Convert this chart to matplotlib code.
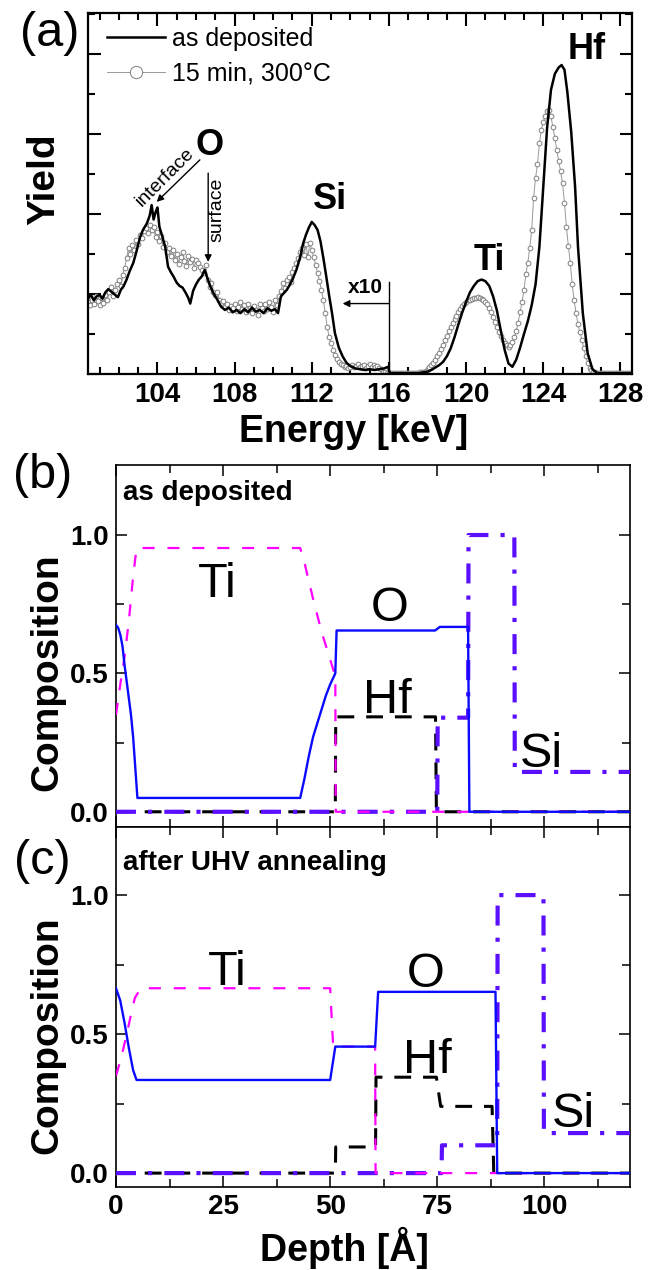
import matplotlib
matplotlib.use('Agg')
import matplotlib.pyplot as plt
import numpy as np
from matplotlib.ticker import MultipleLocator, FixedLocator

plt.rcParams['font.family'] = ['Liberation Sans', 'DejaVu Sans']

# ---------------- Panel (a): spectra ----------------
energy_dep = [100.4, 100.55, 100.7, 100.85, 101.0, 101.15, 101.3, 101.45, 101.6, 101.75,
              101.95, 102.1, 102.25, 102.4, 102.55, 102.75, 102.9, 103.1, 103.25, 103.45,
              103.6, 103.7, 103.8, 103.9, 104.0, 104.1, 104.25, 104.4, 104.55, 104.7,
              104.85, 105.0, 105.15, 105.3, 105.45, 105.6, 105.7, 105.85, 106.0, 106.15,
              106.3, 106.45, 106.6, 106.75, 106.9, 107.1, 107.3, 107.5, 107.7, 107.9,
              108.1, 108.3, 108.5, 108.7, 108.9, 109.1, 109.3, 109.5, 109.7, 109.9,
              110.1, 110.25, 110.4, 110.55, 110.7, 110.85, 111.0, 111.2, 111.4, 111.55,
              111.7, 111.85, 112.0, 112.15, 112.3, 112.45, 112.6, 112.75, 112.9, 113.05,
              113.2, 113.4, 113.6, 113.8, 114.0, 114.25, 114.5, 114.75, 115.0, 115.25,
              115.5, 115.75, 115.95, 116.05, 116.5, 117.0, 117.5, 118.0, 118.2, 118.4,
              118.6, 118.8, 119.0, 119.2, 119.4, 119.6, 119.8, 120.0, 120.2, 120.4,
              120.6, 120.8, 121.0, 121.2, 121.4, 121.6, 121.8, 122.0, 122.2, 122.4,
              122.6, 122.8, 123.0, 123.2, 123.4, 123.6, 123.8, 124.0, 124.2, 124.4,
              124.6, 124.8, 124.95, 125.1, 125.25, 125.45, 125.65, 125.8, 126.05, 126.3,
              126.55, 126.8, 127.5, 128.6]
yield_dep = [0.94, 0.99, 0.92, 0.97, 0.99, 0.94, 1.02, 1.06, 1.03, 1.00,
             0.96, 1.05, 1.10, 1.18, 1.28, 1.39, 1.52, 1.71, 1.80, 1.88,
             1.98, 2.11, 1.93, 2.02, 2.08, 1.84, 1.72, 1.59, 1.34, 1.27,
             1.21, 1.14, 1.10, 1.08, 1.02, 0.95, 0.88, 1.04, 1.12, 1.18,
             1.22, 1.30, 1.19, 1.09, 1.01, 0.93, 0.84, 0.80, 0.83, 0.77,
             0.80, 0.76, 0.81, 0.77, 0.83, 0.78, 0.80, 0.76, 0.82, 0.79,
             0.81, 0.76, 0.97, 1.01, 1.05, 1.11, 1.18, 1.30, 1.46, 1.63,
             1.74, 1.83, 1.90, 1.86, 1.80, 1.66, 1.45, 1.22, 0.98, 0.76,
             0.51, 0.33, 0.22, 0.14, 0.10, 0.07, 0.06, 0.05, 0.06, 0.05,
             0.06, 0.07, 0.09, 0.01, 0.01, 0.01, 0.01, 0.03, 0.05, 0.08,
             0.11, 0.15, 0.22, 0.32, 0.46, 0.62, 0.77, 0.90, 1.02, 1.10,
             1.16, 1.18, 1.16, 1.10, 0.97, 0.79, 0.54, 0.30, 0.13, 0.09,
             0.18, 0.33, 0.50, 0.66, 0.86, 1.12, 1.59, 2.34, 3.08, 3.55,
             3.75, 3.83, 3.86, 3.80, 3.52, 3.02, 2.34, 1.59, 0.76, 0.26,
             0.06, 0.01, 0.01, 0.01]

# annealed spectrum, one value per 0.1 keV channel from 100.4 to 128.6 keV
yield_ann = [0.90, 0.86, 0.93, 0.88, 0.97, 0.91, 0.86, 0.95, 0.89, 0.99,
             0.92, 1.02, 1.09, 0.98, 1.05, 1.12, 1.18, 1.10, 1.24, 1.33,
             1.45, 1.57, 1.50, 1.61, 1.55, 1.68, 1.63, 1.74, 1.70, 1.79,
             1.82, 1.76, 1.86, 1.80, 1.84, 1.71, 1.78, 1.66, 1.73, 1.59,
             1.64, 1.52, 1.58, 1.47, 1.55, 1.43, 1.50, 1.38, 1.46, 1.52,
             1.41, 1.35, 1.48, 1.40, 1.44, 1.33, 1.42, 1.39, 1.34, 1.30,
             1.26, 1.36, 1.18, 1.09, 1.14, 1.03, 0.99, 1.02, 0.93, 0.89,
             0.91, 0.84, 0.87, 0.80, 0.85, 0.82, 0.88, 0.79, 0.84, 0.90,
             0.81, 0.86, 0.78, 0.87, 0.83, 0.76, 0.85, 0.80, 0.74, 0.88,
             0.82, 0.79, 0.87, 0.81, 0.90, 0.84, 0.78, 0.93, 0.86, 0.97,
             1.04, 1.14, 1.08, 1.17, 1.21, 1.15, 1.27, 1.33, 1.39, 1.45,
             1.52, 1.58, 1.49, 1.62, 1.46, 1.64, 1.55, 1.46, 1.36, 1.26,
             1.16, 1.05, 0.92, 0.76, 0.59, 0.46, 0.39, 0.30, 0.24, 0.19,
             0.15, 0.13, 0.11, 0.09, 0.10, 0.08, 0.09, 0.11, 0.09, 0.10,
             0.12, 0.09, 0.10, 0.11, 0.08, 0.10, 0.12, 0.09, 0.11, 0.09,
             0.10, 0.08, 0.06, 0.03, 0.02, 0.01, 0.01, 0.01, 0.01, 0.01,
             0.01, 0.01, 0.01, 0.01, 0.01, 0.01, 0.01, 0.01, 0.01, 0.01,
             0.01, 0.01, 0.02, 0.02, 0.03, 0.04, 0.06, 0.09, 0.11, 0.14,
             0.18, 0.22, 0.26, 0.31, 0.36, 0.42, 0.48, 0.54, 0.59, 0.64,
             0.69, 0.73, 0.77, 0.81, 0.85, 0.88, 0.90, 0.92, 0.93, 0.94,
             0.95, 0.95, 0.96, 0.95, 0.94, 0.92, 0.90, 0.87, 0.83, 0.77,
             0.71, 0.65, 0.59, 0.53, 0.48, 0.43, 0.39, 0.36, 0.34, 0.36,
             0.40, 0.46, 0.54, 0.64, 0.78, 0.90, 1.05, 1.25, 1.39, 1.58,
             1.80, 2.20, 2.45, 2.62, 2.88, 3.05, 3.15, 3.22, 3.28, 3.30,
             3.22, 3.08, 2.95, 2.80, 2.66, 2.53, 2.38, 2.14, 1.84, 1.60,
             1.39, 1.12, 0.92, 0.76, 0.62, 0.52, 0.43, 0.32, 0.22, 0.14,
             0.08, 0.05, 0.03, 0.02, 0.01, 0.01, 0.01, 0.01, 0.01, 0.01,
             0.01, 0.01, 0.01, 0.01, 0.01, 0.01, 0.01, 0.01, 0.01, 0.01,
             0.01, 0.01, 0.01]
energy_ann = np.linspace(100.4, 128.6, len(yield_ann))

energy_ticks = [104, 108, 112, 116, 120, 124, 128]
energy_ticklabels = ['104', '108', '112', '116', '120', '124', '128']

# ---------------- Panel (b): as deposited ----------------
depth_O_b = [0, 0.5, 1.0, 1.5, 2.0, 2.5, 3.0, 3.5, 4.0, 4.5, 5.0, 43.0, 44.0, 45.0, 46.0,
             47.0, 48.0, 49.0, 50.0, 51.2, 51.5, 74.5, 75.6, 82.2, 82.5, 120]
O_b = [0.675, 0.665, 0.64, 0.60, 0.53, 0.47, 0.41, 0.35, 0.27, 0.16, 0.05, 0.05, 0.12, 0.20,
       0.27, 0.32, 0.37, 0.42, 0.46, 0.50, 0.655, 0.655, 0.668, 0.668, 0.0, 0.0]
depth_Ti_b = [0, 1.0, 2.0, 3.0, 4.0, 4.8, 43.0, 44.0, 46.0, 48.0, 50.0, 51.2, 51.3, 120]
Ti_b = [0.35, 0.46, 0.56, 0.69, 0.85, 0.953, 0.953, 0.90, 0.77, 0.65, 0.55, 0.49, 0.0, 0.0]
depth_Hf_b = [0, 51.2, 51.3, 74.6, 74.8, 120]
Hf_b = [0.0, 0.0, 0.343, 0.343, 0.0, 0.0]
depth_Si_b = [0, 75.0, 75.1, 82.2, 82.3, 93.0, 93.1, 120]
Si_b = [0.0, 0.0, 0.34, 0.34, 1.0, 1.0, 0.144, 0.144]

# ---------------- Panel (c): after UHV annealing ----------------
depth_O_c = [0, 1.0, 2.0, 3.0, 4.0, 4.8, 50.0, 51.2, 60.5, 61.2, 88.6, 89.0, 120]
O_c = [0.665, 0.62, 0.54, 0.45, 0.37, 0.335, 0.335, 0.455, 0.455, 0.652, 0.652, 0.0, 0.0]
depth_Ti_c = [0, 1.3, 2.5, 3.5, 4.4, 5.8, 50.0, 50.7, 60.5, 60.6, 120]
Ti_c = [0.35, 0.42, 0.50, 0.57, 0.63, 0.665, 0.665, 0.455, 0.455, 0.0, 0.0]
depth_Hf_c = [0, 51.2, 51.3, 60.6, 60.7, 74.8, 75.8, 87.8, 88.2, 120]
Hf_c = [0.0, 0.0, 0.094, 0.094, 0.345, 0.345, 0.24, 0.24, 0.0, 0.0]
depth_Si_c = [0, 76.0, 76.1, 89.0, 89.1, 99.8, 99.9, 120]
Si_c = [0.0, 0.0, 0.10, 0.10, 1.0, 1.0, 0.144, 0.144]

depth_ticks = [0, 25, 50, 75, 100]
depth_ticklabels = ['0', '25', '50', '75', '100']
comp_ticks = [0.0, 0.5, 1.0]
comp_ticklabels = ['0.0', '0.5', '1.0']

C_TI = '#ff00ff'
C_O = '#0a0aff'
C_HF = '#000000'
C_SI = '#5a10ff'

W, H = 659, 1270
fig = plt.figure(figsize=(W / 100, H / 100), dpi=100)

# ---------------- axes (a) ----------------
ax1 = fig.add_axes([88 / W, 1 - 374 / H, 544 / W, 361 / H])
l2, = ax1.plot(energy_ann, yield_ann, color='#999999', lw=0.7, marker='o', ms=3.4,
               mfc='white', mec='#7f7f7f', mew=0.7, zorder=2, label='15 min, 300°C')
l1, = ax1.plot(energy_dep, yield_dep, color='k', lw=1.8, zorder=3, label='as deposited')
ax1.set_xlim(100.4, 128.6)
ax1.set_ylim(0, 4.51)
ax1.set_xticks(energy_ticks)
ax1.set_xticklabels(energy_ticklabels, fontsize=20, fontweight='bold')
ax1.xaxis.set_minor_locator(MultipleLocator(1))
ax1.yaxis.set_major_locator(MultipleLocator(1))
ax1.yaxis.set_minor_locator(MultipleLocator(0.5))
ax1.set_yticklabels([])
ax1.tick_params(which='both', direction='in', top=True, right=True, width=1.5)
ax1.tick_params(which='major', length=9, pad=6)
ax1.tick_params(which='minor', length=5)
for s in ax1.spines.values():
    s.set_linewidth(1.6)
ax1.set_xlabel('Energy [keV]', fontsize=27, fontweight='bold', va='center')
ax1.xaxis.set_label_coords(0.489, -0.161)
ax1.set_ylabel('Yield', fontsize=28, fontweight='bold', va='center')
ax1.yaxis.set_label_coords(-0.081, 0.539)

ax1.legend(handles=[l1, l2], loc='upper left', bbox_to_anchor=(0.035, 0.962), frameon=False,
           fontsize=18, handlelength=2.3, handletextpad=0.3, labelspacing=0.45,
           borderpad=0, borderaxespad=0, numpoints=1, markerscale=2.6)

for txt, x, y in [('O', 106.72, 2.74), ('Si', 112.94, 2.06), ('Ti', 121.18, 1.30), ('Hf', 126.25, 3.93)]:
    ax1.text(x, y, txt, fontsize=26, fontweight='bold', ha='center', va='baseline')
ax1.text(114.78, 1.01, 'x10', fontsize=15, fontweight='bold', ha='center', va='baseline')
ax1.plot([116, 116], [0, 1.15], color='k', lw=1)
arrow = dict(arrowstyle='-|>', color='k', lw=1, mutation_scale=10, shrinkA=0, shrinkB=0)
ax1.annotate('', xy=(113.6, 0.88), xytext=(116, 0.88), arrowprops=arrow)
ax1.annotate('', xy=(103.96, 2.15), xytext=(106.2, 2.675), arrowprops=arrow)
ax1.annotate('', xy=(106.63, 1.40), xytext=(106.63, 2.51), arrowprops=arrow)
ax1.text(104.39, 2.46, 'interface', rotation=45, fontsize=14, ha='center', va='center',
         rotation_mode='anchor')
ax1.text(107.08, 2.05, 'surface', rotation=90, fontsize=14, ha='center', va='center')

fig.text(50 / W, 1 - 33 / H, '(a)', fontsize=35, ha='center', va='center')


def style_comp(ax, ylo, yhi, show_x):
    ax.set_xlim(0, 120)
    ax.set_ylim(ylo, yhi)
    ax.set_xticks(depth_ticks)
    if show_x:
        ax.set_xticklabels(depth_ticklabels, fontsize=20, fontweight='bold')
    else:
        ax.set_xticklabels([])
    ax.xaxis.set_minor_locator(MultipleLocator(12.5))
    ax.set_yticks(comp_ticks)
    ax.set_yticklabels(comp_ticklabels, fontsize=20, fontweight='bold')
    ax.yaxis.set_minor_locator(FixedLocator([0.25, 0.75]))
    ax.tick_params(which='both', direction='in', top=True, right=True, width=1.1)
    ax.tick_params(which='major', length=8, pad=5)
    ax.tick_params(which='minor', length=6)
    for s in ax.spines.values():
        s.set_linewidth(1.2)


def draw_comp(ax, dSi, Si, dHf, Hf, dTi, Ti, dO, O):
    ax.plot(dHf, Hf, color=C_HF, lw=2.2, linestyle=(0, (5.5, 3.9)), zorder=2)
    ax.plot(dSi, Si, color=C_SI, lw=3.0, linestyle=(0, (4.8, 2.9, 1.0, 2.9)), zorder=3)
    ax.plot(dTi, Ti, color=C_TI, lw=1.6, linestyle=(0, (5.4, 5.8)), zorder=4)
    ax.plot(dO, O, color=C_O, lw=1.7, zorder=5)


# ---------------- axes (b) ----------------
ax2 = fig.add_axes([116 / W, 1 - 827 / H, 514 / W, 362 / H])
draw_comp(ax2, depth_Si_b, Si_b, depth_Hf_b, Hf_b, depth_Ti_b, Ti_b, depth_O_b, O_b)
style_comp(ax2, -0.055, 1.253, False)
ax2.set_ylabel('Composition', fontsize=28, fontweight='bold', va='center')
ax2.yaxis.set_label_coords(-0.134, 0.428)
ax2.text(1.6, 1.126, 'as deposited', fontsize=20, fontweight='bold', ha='left', va='baseline')
for txt, x, y in [('Ti', 23.6, 0.776), ('O', 64.0, 0.69), ('Hf', 63.3, 0.357), ('Si', 99.4, 0.162)]:
    ax2.text(x, y, txt, fontsize=35, ha='center', va='baseline')
fig.text(43 / W, 1 - 476 / H, '(b)', fontsize=35, ha='center', va='center')

# ---------------- axes (c) ----------------
ax3 = fig.add_axes([116 / W, 1 - 1187 / H, 514 / W, 360 / H])
draw_comp(ax3, depth_Si_c, Si_c, depth_Hf_c, Hf_c, depth_Ti_c, Ti_c, depth_O_c, O_c)
style_comp(ax3, -0.05, 1.245, True)
ax3.set_ylabel('Composition', fontsize=28, fontweight='bold', va='center')
ax3.yaxis.set_label_coords(-0.134, 0.422)
ax3.set_xlabel('Depth [Å]', fontsize=27, fontweight='bold', va='center')
ax3.xaxis.set_label_coords(0.444, -0.169)
ax3.text(1.6, 1.09, 'after UHV annealing', fontsize=20, fontweight='bold', ha='left', va='baseline')
for txt, x, y in [('Ti', 26.0, 0.676), ('O', 72.4, 0.67), ('Hf', 72.7, 0.36), ('Si', 106.8, 0.165)]:
    ax3.text(x, y, txt, fontsize=35, ha='center', va='baseline')
fig.text(42 / W, 1 - 862 / H, '(c)', fontsize=35, ha='center', va='center')

fig.savefig('out.png', dpi=100)
